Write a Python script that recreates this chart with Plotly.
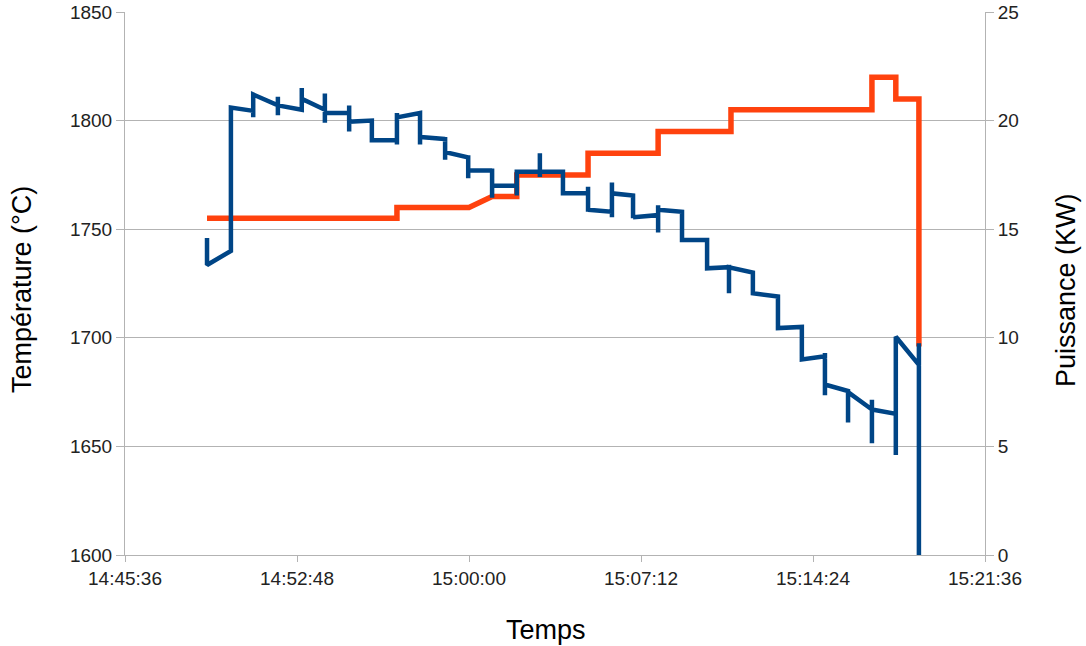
import plotly.graph_objects as go

DAY = "2024-01-01 "

# Temperature readings: one timestamp per reading, with the sequence of values the
# recorder drew at that instant (spikes and level changes)
temp_times = ["14:49:02", "14:50:02", "14:50:58", "14:52:00", "14:53:00", "14:53:58",
              "14:54:59", "14:55:56", "14:56:59", "14:57:57", "14:59:00", "14:59:58",
              "15:00:58", "15:02:00", "15:02:58", "15:03:56", "15:04:59", "15:05:59",
              "15:06:52", "15:07:55", "15:08:55", "15:09:58", "15:10:53", "15:11:53",
              "15:12:56", "15:13:56", "15:14:54", "15:15:52", "15:16:52", "15:17:52",
              "15:18:50"]
temp_values = [
    [1746, 1733.5],
    [1740, 1806],
    [1804.5, 1801.5, 1812],
    [1807, 1811, 1802.5, 1807],
    [1805, 1815, 1810],
    [1805, 1812.5, 1799, 1803.5],
    [1803.5, 1807, 1795, 1799.5],
    [1800, 1791],
    [1791, 1789, 1803.5, 1801.5],
    [1803.5, 1789, 1792.5],
    [1791.5, 1792.5, 1782, 1785.5],
    [1783, 1784, 1773.5, 1777],
    [1777, 1778, 1764.5, 1770],
    [1770, 1765.5, 1777.5, 1776.5],
    [1776.5, 1785, 1774, 1776.5],
    [1776.5, 1766.5],
    [1766.5, 1769.5, 1758, 1759],
    [1758, 1755.5, 1771.5, 1766.5],
    [1765.5, 1755, 1755.5],
    [1756.5, 1761, 1748.5, 1759],
    [1758, 1745],
    [1745, 1732],
    [1732.5, 1720.5, 1732.5],
    [1730, 1720.5],
    [1719, 1704.5],
    [1705, 1690],
    [1691.5, 1693, 1673.5, 1678.5],
    [1675.5, 1661, 1675],
    [1667, 1671.5, 1651.5, 1667],
    [1665, 1646, 1700.5],
    [1687.5, 1697.5, 1600],
]

# Power (kW)
power_times = ["14:49:02", "14:56:59", "14:56:59", "15:00:00", "15:00:58", "15:02:00",
               "15:02:00", "15:04:59", "15:04:59", "15:07:55", "15:07:55", "15:10:58",
               "15:10:58", "15:16:52", "15:16:52", "15:17:52", "15:17:52", "15:18:50",
               "15:18:50"]
power_kw = [15.5, 15.5, 16, 16, 16.5, 16.5, 17.5, 17.5, 18.5, 18.5, 19.5, 19.5,
            20.5, 20.5, 22, 22, 21, 21, 9.6]

x_ticks = ["14:45:36", "14:52:48", "15:00:00", "15:07:12", "15:14:24", "15:21:36"]
temp_ticks = [1600, 1650, 1700, 1750, 1800, 1850]
power_ticks = [0, 5, 10, 15, 20, 25]

tx, ty = [], []
for t, vals in zip(temp_times, temp_values):
    for v in vals:
        tx.append(DAY + t)
        ty.append(v)

fig = go.Figure()
fig.add_trace(go.Scatter(x=[DAY + t for t in power_times], y=power_kw, mode="lines",
                         line=dict(color="#ff420e", width=5.5), yaxis="y",
                         name="Puissance", showlegend=False))
fig.add_trace(go.Scatter(x=tx, y=ty, mode="lines",
                         line=dict(color="#004586", width=4.5), yaxis="y2",
                         name="Température", showlegend=False))

font = "Liberation Sans, Arial, sans-serif"
grid = "#b3b3b3"
W, H = 1086, 646
L, R, T, B = 125, 101, 12, 91


def px_x(sx):
    return (sx - L) / (W - L - R)


def px_y(sy):
    return (H - B - sy) / (H - T - B)


fig.update_layout(
    width=W, height=H,
    margin=dict(l=L, r=R, t=T, b=B, autoexpand=False),
    paper_bgcolor="white", plot_bgcolor="white",
    font=dict(family=font, size=19, color="#222"),
    xaxis=dict(
        type="date", automargin=False,
        range=[DAY + x_ticks[0], DAY + x_ticks[-1]],
        tickvals=[DAY + t for t in x_ticks], ticktext=x_ticks,
        showgrid=False, showline=True, linecolor=grid, linewidth=1,
        ticks="outside", ticklen=6, tickcolor=grid,
        zeroline=False,
    ),
    yaxis=dict(
        side="right", range=[0, 25], tickvals=power_ticks, automargin=False,
        showgrid=True, gridcolor=grid, gridwidth=1,
        showline=True, linecolor=grid, ticks="outside", ticklen=8, tickcolor=grid,
        zeroline=False, ticklabeloverflow="allow",
    ),
    yaxis2=dict(
        side="left", overlaying="y", range=[1600, 1850], tickvals=temp_ticks,
        automargin=False,
        showgrid=False, showline=True, linecolor=grid, ticks="outside", ticklen=8,
        tickcolor=grid,
        zeroline=False, ticklabeloverflow="allow",
    ),
    annotations=[
        dict(text="Temps", xref="paper", yref="paper",
             x=px_x(546), y=px_y(630),
             showarrow=False, font=dict(size=27, color="#000"),
             xanchor="center", yanchor="middle"),
        dict(text="Température (°C)", xref="paper", yref="paper",
             x=px_x(22), y=px_y(290),
             textangle=-90, showarrow=False, font=dict(size=27, color="#000"),
             xanchor="center", yanchor="middle"),
        dict(text="Puissance (KW)", xref="paper", yref="paper",
             x=px_x(1066), y=px_y(290),
             textangle=-90, showarrow=False, font=dict(size=27, color="#000"),
             xanchor="center", yanchor="middle"),
    ],
)

fig.write_html("out.html", post_script="document.body.style.margin='0';",
               config={"displayModeBar": False})
